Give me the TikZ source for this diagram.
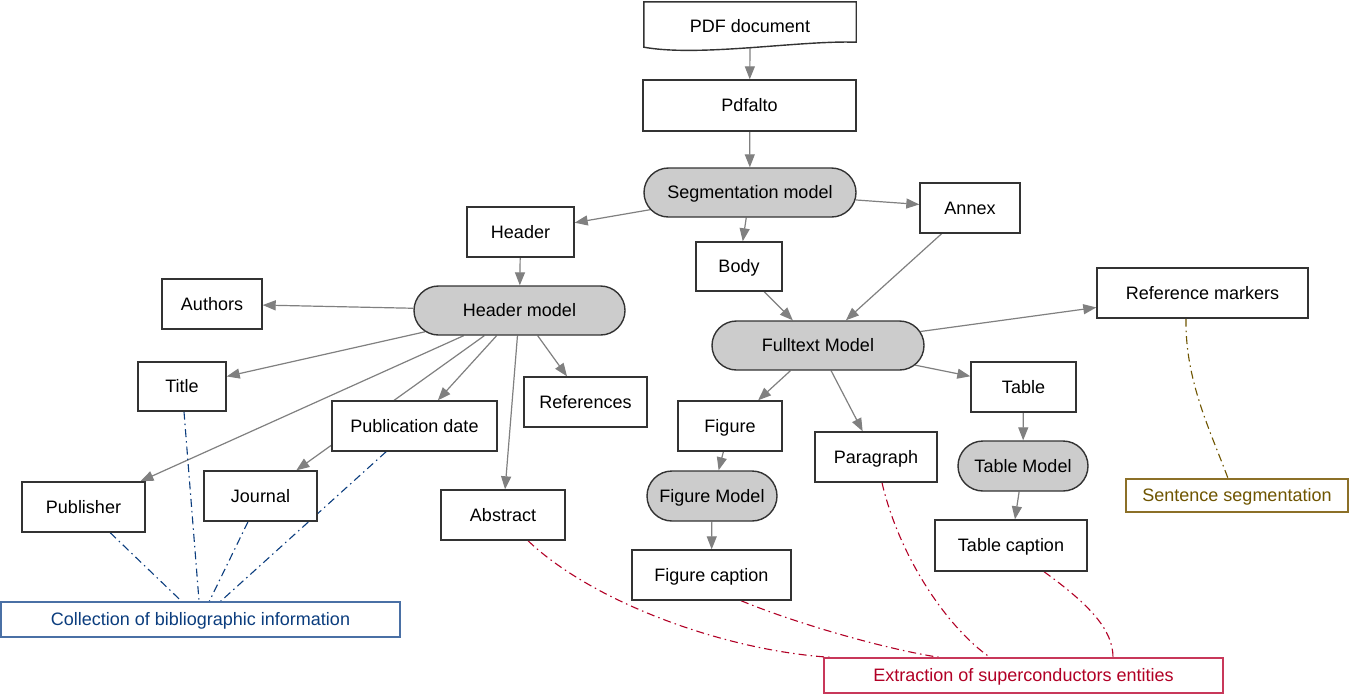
\documentclass[tikz,border=0pt]{standalone}
\usepackage{fontspec}
\setmainfont{Liberation Sans}
\usetikzlibrary{arrows.meta,shapes.misc,backgrounds}
\definecolor{boxline}{HTML}{333333}
\definecolor{arrowgray}{HTML}{808080}
\definecolor{modelfill}{HTML}{CCCCCC}
\definecolor{bibblue}{HTML}{0B3D7E}
\definecolor{bibborder}{HTML}{4A70A5}
\definecolor{supred}{HTML}{B20026}
\definecolor{supborder}{HTML}{C8385A}
\definecolor{sentbrown}{HTML}{6F5500}
\definecolor{sentborder}{HTML}{8C7028}
\begin{document}
\begin{tikzpicture}[x=1pt,y=-1pt,
  font=\fontsize{18}{21}\selectfont,
  box/.style={draw=boxline,line width=1.4pt,fill=white,inner sep=0pt,minimum height=50pt,text height=14pt,text depth=2pt},
  model/.style={box,rounded rectangle,fill=modelfill},
  flow/.style={draw=arrowgray,line width=1.2pt,-{Triangle[length=13pt,width=10pt]}},
  bibline/.style={draw=bibblue,line width=1.1pt,dash pattern=on 8pt off 4pt on 1.5pt off 4pt},
  supline/.style={draw=supred,line width=1.1pt,dash pattern=on 8pt off 4pt on 1.5pt off 4pt},
  sentline/.style={draw=sentbrown,line width=1.1pt,dash pattern=on 8pt off 4pt on 1.5pt off 4pt}]
\useasboundingbox (0,0) rectangle (1349,694);

\node[inner sep=0pt,minimum width=212pt,minimum height=46pt] (pdf) at (750,25) {};
\draw[draw=boxline,line width=1.4pt,fill=white] (pdf.north west) -- (pdf.north east) -- ([yshift=6pt]pdf.south east)
  .. controls ([xshift=-56pt,yshift=8pt]pdf.south east) and ([xshift=56pt,yshift=-9pt]pdf.south west) .. ([yshift=1pt]pdf.south west) -- cycle;
\node[inner sep=0pt,text height=14pt,text depth=2pt] (pdftext) at ([yshift=-1pt]pdf.center) {PDF document};

\node[box,minimum width=213pt,minimum height=51pt] (pdfalto) at (749.5,105.5) {Pdfalto};
\node[model,minimum width=212pt,minimum height=49pt] (seg) at (750,192.5) {Segmentation model};
\node[box,minimum width=100pt] (annex) at (970,208) {Annex};
\node[box,minimum width=107pt] (header) at (520.5,232) {Header};
\node[box,minimum width=86pt,minimum height=49pt] (body) at (739,266.5) {Body};
\node[box,minimum width=100pt] (authors) at (212,304) {Authors};
\node[model,minimum width=211pt,minimum height=49pt] (hm) at (519.5,310.5) {Header model};
\node[box,minimum width=211pt] (refm) at (1202.5,293) {Reference markers};
\node[model,minimum width=212pt,minimum height=49pt] (ft) at (818,345.5) {Fulltext Model};
\node[box,minimum width=88pt,minimum height=49pt] (title) at (182,386.5) {Title};
\node[box,minimum width=123pt] (refs) at (585.5,402) {References};
\node[box,minimum width=165pt] (pubdate) at (414.5,426) {Publication date};
\node[box,minimum width=105pt] (table) at (1023.5,387) {Table};
\node[box,minimum width=104pt] (figure) at (730,426) {Figure};
\node[box,minimum width=122pt] (para) at (876,457) {Paragraph};
\node[model,minimum width=130pt] (tm) at (1023,466) {Table Model};
\node[box,minimum width=113pt] (journal) at (260.5,496) {Journal};
\node[box,minimum width=123pt] (publisher) at (83.5,507) {Publisher};
\node[box,minimum width=124pt] (abstract) at (503,515) {Abstract};
\node[model,minimum width=130pt] (fm) at (712,496) {Figure Model};
\node[box,draw=sentborder,text=sentbrown,minimum width=222pt,minimum height=33pt] (sent) at (1237,495.5) {Sentence segmentation};
\node[box,minimum width=152pt,minimum height=51pt] (tcap) at (1011,545.5) {Table caption};
\node[box,minimum width=159pt] (fcap) at (711.5,575) {Figure caption};
\node[box,draw=bibborder,text=bibblue,minimum width=399pt,minimum height=35pt] (coll) at (200.5,619.5) {Collection of bibliographic information};
\node[box,draw=supborder,text=supred,minimum width=399pt,minimum height=35pt] (ext) at (1023.5,675.5) {Extraction of superconductors entities};

\begin{pgfonlayer}{background}
\fill[white] (0,0) rectangle (1349,694);
\draw[flow] (pdf.south) -- (pdfalto);
\draw[flow] (pdfalto) -- (seg);
\draw[flow] (seg) -- (annex);
\draw[flow] (seg) -- (header);
\draw[flow] (seg) -- (body);
\draw[flow] (header) -- (hm);
\draw[flow] (hm) -- (authors);
\draw[flow] (hm) -- (title);
\draw[flow] (hm) -- (publisher);
\draw[flow] (hm) -- (journal);
\draw[flow] (hm) -- (pubdate);
\draw[flow] (hm) -- (abstract);
\draw[flow] (hm) -- (refs);
\draw[flow] (body) -- (ft);
\draw[flow] (annex) -- (ft);
\draw[flow] (ft) -- (refm);
\draw[flow] (ft) -- (figure);
\draw[flow] (ft) -- (para);
\draw[flow] (ft) -- (table);
\draw[flow] (table) -- (tm);
\draw[flow] (figure) -- (fm);
\draw[flow] (fm) -- (fcap);
\draw[flow] (tm) -- (tcap);

\draw[bibline] (publisher) -- (coll);
\draw[bibline] (title) -- (coll);
\draw[bibline] (journal) -- (coll);
\draw[bibline] (pubdate) -- (coll);

\draw[supline] ([xshift=25pt]abstract.south) .. controls (590,600) and (720,650) .. ([xshift=6.5pt]ext.north west);
\draw[supline] ([xshift=29.5pt]fcap.south) .. controls (800,625) and (890,650) .. ([xshift=116pt]ext.north west);
\draw[supline] ([xshift=6pt]para.south) .. controls (900,560) and (950,630) .. ([xshift=-33.5pt]ext.north);
\draw[supline] ([xshift=33pt]tcap.south) .. controls (1090,605) and (1113,630) .. ([xshift=89.5pt]ext.north);

\draw[sentline] ([xshift=-16.5pt]refm.south) .. controls (1185,380) and (1210,430) .. ([xshift=-9pt]sent.north);
\end{pgfonlayer}
\end{tikzpicture}
\end{document}
